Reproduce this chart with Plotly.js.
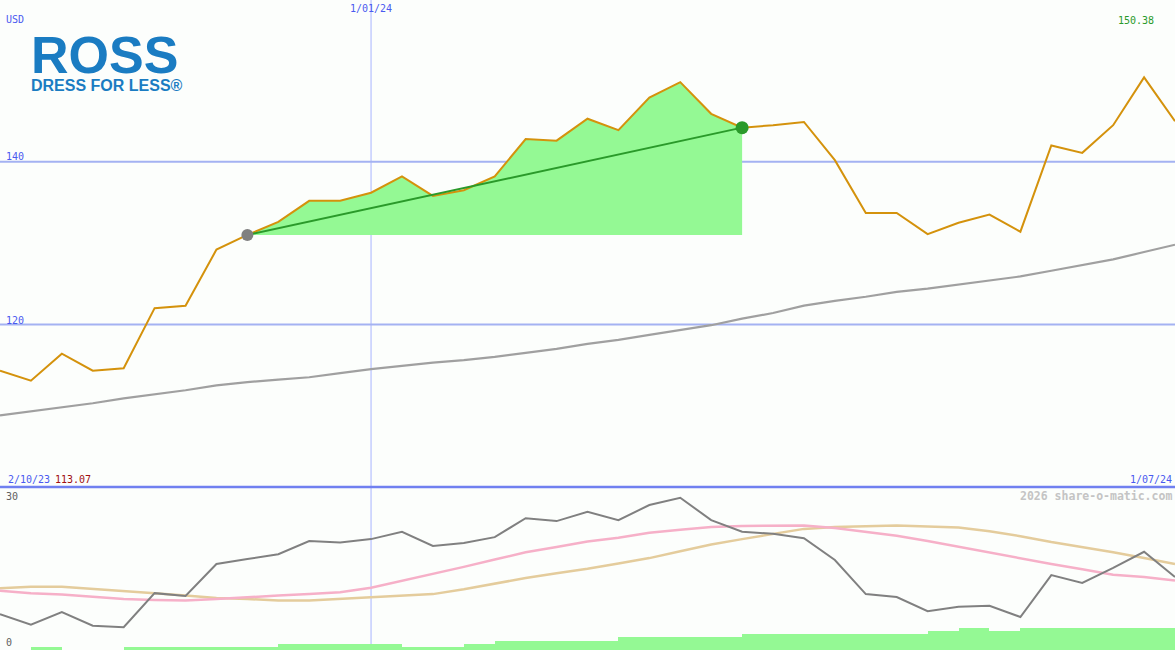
<!DOCTYPE html>
<html>
<head>
<meta charset="utf-8">
<script src="https://cdn.plot.ly/plotly-3.0.1.min.js"></script>
<style>
html,body{margin:0;padding:0;background:#fcfefc;}
#chart{width:1175px;height:650px;}
</style>
</head>
<body>
<div id="chart"></div>
<script>
// Weekly dates
const dates = [
"2023-10-09","2023-10-16","2023-10-23","2023-10-30","2023-11-06","2023-11-13","2023-11-20","2023-11-27",
"2023-12-04","2023-12-11","2023-12-18","2023-12-25","2024-01-01","2024-01-08","2024-01-15","2024-01-22",
"2024-01-29","2024-02-05","2024-02-12","2024-02-19","2024-02-26","2024-03-04","2024-03-11","2024-03-18",
"2024-03-25","2024-04-01","2024-04-08","2024-04-15","2024-04-22","2024-04-29","2024-05-06","2024-05-13",
"2024-05-20","2024-05-27","2024-06-03","2024-06-10","2024-06-17","2024-06-24","2024-07-01"];

// Price (USD)
const price = [114.3,113.07,116.4,114.3,114.6,122.0,122.3,129.2,131.0,132.6,135.2,135.2,136.2,138.2,135.8,136.5,
138.2,142.8,142.6,145.3,143.9,147.9,149.8,145.9,144.2,144.5,144.9,140.2,133.7,133.7,131.1,132.5,
133.5,131.4,142.0,141.1,144.5,150.38,145.0];

// Long moving average (grey line, upper panel)
const movingAvg = [108.8,109.3,109.8,110.3,110.9,111.4,111.9,112.5,112.9,113.2,113.5,114.0,114.5,114.9,115.3,115.6,
116.0,116.5,117.0,117.6,118.1,118.7,119.3,119.9,120.7,121.4,122.3,122.9,123.4,124.0,124.4,124.9,
125.4,125.9,126.6,127.3,128.0,128.9,129.8];

// Lower panel indicator lines
const oscGrey = [6.7,4.5,7.1,4.3,4.0,11.0,10.4,17.0,18.0,19.0,21.7,21.4,22.1,23.6,20.7,21.3,
22.5,26.4,25.8,27.7,26.0,29.1,30.6,26.0,23.6,23.2,22.3,17.8,10.8,10.2,7.3,8.2,
8.4,6.1,14.7,13.1,16.2,19.5,14.3];
const oscPink = [11.5,11.0,10.7,10.3,9.8,9.6,9.5,9.8,10.2,10.5,10.8,11.2,12.1,13.5,14.9,16.4,
17.9,19.4,20.5,21.6,22.4,23.4,24.0,24.6,24.8,24.9,24.9,24.4,23.6,22.8,21.7,20.5,
19.3,18.1,17.0,15.9,14.8,14.3,13.6];
const oscTan = [12.0,12.3,12.3,11.9,11.4,11.0,10.5,10.0,9.8,9.5,9.5,9.8,10.1,10.5,10.8,11.8,
13.0,14.1,15.1,16.0,17.1,18.2,19.6,21.0,22.1,23.2,24.2,24.6,24.7,24.9,24.7,24.5,
23.7,22.7,21.5,20.5,19.4,18.2,17.0];

// Weekly bars at the bottom (one per week interval)
const barValues = [0,1,0,0,1,1,1,1,1,2,2,2,2,1,1,2,3,3,3,3,4,4,4,4,5,5,5,5,5,5,6,7,6,7,7,7,7,7];

// Highlighted trend segment
const trendStart = 8, trendEnd = 24;

const segDates = dates.slice(trendStart, trendEnd + 1);
const segPrice = price.slice(trendStart, trendEnd + 1);
const WEEK = 7 * 24 * 3600 * 1000;

const traces = [
  {x:[dates[trendStart], dates[trendEnd]], y:[price[trendStart], price[trendStart]], xaxis:'x', yaxis:'y',
   mode:'lines', line:{width:0, color:'rgba(0,0,0,0)'}, hoverinfo:'skip', showlegend:false},
  {x:segDates, y:segPrice, xaxis:'x', yaxis:'y', mode:'lines', line:{width:0, color:'rgba(0,0,0,0)'},
   fill:'tonexty', fillcolor:'#94f994', showlegend:false},
  {x:dates, y:movingAvg, xaxis:'x', yaxis:'y', mode:'lines', line:{color:'#a0a0a0', width:2.2}, showlegend:false},
  {x:dates, y:price, xaxis:'x', yaxis:'y', mode:'lines', line:{color:'#d4920c', width:2}, showlegend:false},
  {x:[dates[trendStart], dates[trendEnd]], y:[price[trendStart], price[trendEnd]], xaxis:'x', yaxis:'y',
   mode:'lines', line:{color:'#2a9a2a', width:2}, showlegend:false},
  {x:[dates[trendStart]], y:[price[trendStart]], xaxis:'x', yaxis:'y', mode:'markers',
   marker:{color:'#808080', size:12}, showlegend:false},
  {x:[dates[trendEnd]], y:[price[trendEnd]], xaxis:'x', yaxis:'y', mode:'markers',
   marker:{color:'#2a9a2a', size:13}, showlegend:false},
  {x:dates.slice(0, barValues.length), y:barValues, type:'bar', xaxis:'x', yaxis:'y3',
   width:WEEK, offset:0, marker:{color:'#94f994', line:{width:0}}, showlegend:false},
  {x:dates, y:oscTan, xaxis:'x', yaxis:'y2', mode:'lines', line:{color:'#e4cc9c', width:2.5}, showlegend:false},
  {x:dates, y:oscPink, xaxis:'x', yaxis:'y2', mode:'lines', line:{color:'#f6b0c8', width:2.5}, showlegend:false},
  {x:dates, y:oscGrey, xaxis:'x', yaxis:'y2', mode:'lines', line:{color:'#808080', width:2}, showlegend:false}
];

const H = 650;
const py = v => 1 - v / H;
const mono = 'DejaVu Sans Mono, monospace';

const ann = (text, x, ypx, xanchor, color, opts) => Object.assign({
  text, x, y: py(ypx), xref:'paper', yref:'paper', xanchor, yanchor:'middle', showarrow:false,
  font:{family:mono, size:10, color}, borderpad:0
}, opts || {});

const annotations = [
  ann('USD', 5/1175, 19, 'left', '#4a5af0'),
  ann('140', 5/1175, 156, 'left', '#4a5af0'),
  ann('120', 5/1175, 320, 'left', '#4a5af0'),
  Object.assign(ann('1/01/24', 0, 9, 'center', '#4a5af0'), {x:'2024-01-01', xref:'x'}),
  ann('150.38', 1117/1175, 21, 'left', '#2a9a2a'),
  ann('2/10/23', 7/1175, 479, 'left', '#4a5af0'),
  ann('113.07', 54/1175, 479, 'left', '#a01010'),
  ann('1/07/24', 1173/1175, 479, 'right', '#4a5af0'),
  ann('30', 5/1175, 496, 'left', '#606060'),
  ann('0', 5/1175, 642, 'left', '#606060'),
  ann('<b>2026 share-o-matic.com</b>', 1173/1175, 496, 'right', '#c4c4c4', {font:{family:mono, size:11.5, color:'#c4c4c4'}}),
  ann('<span style="font-size:52px"><b>ROSS</b></span><br><span style="font-size:16px"><b>DRESS FOR LESS®</b></span>',
      30/1175, 60, 'left', '#1a7cc2',
      {align:'left', font:{family:'Liberation Sans, Arial, sans-serif', size:14, color:'#1a7cc2'}})
];

const shapes = [
  {type:'line', xref:'x', yref:'paper', x0:'2024-01-01', x1:'2024-01-01', y0:0, y1:1,
   line:{color:'#a8b4ff', width:1}, layer:'below'},
  {type:'line', xref:'paper', yref:'y', x0:0, x1:1, y0:140, y1:140, line:{color:'#a4b2f2', width:2}, layer:'below'},
  {type:'line', xref:'paper', yref:'y', x0:0, x1:1, y0:120, y1:120, line:{color:'#a4b2f2', width:2}, layer:'below'},
  {type:'line', xref:'paper', yref:'paper', x0:0, x1:1, y0:py(487), y1:py(487), line:{color:'#7080f0', width:2.5}}
];

const layout = {
  width:1175, height:650,
  margin:{l:0, r:0, t:0, b:0, pad:0},
  paper_bgcolor:'#fcfefc', plot_bgcolor:'rgba(0,0,0,0)',
  showlegend:false,
  bargap:0,
  xaxis:{type:'date', range:['2023-10-09','2024-07-01'], showgrid:false, showticklabels:false,
         zeroline:false, showline:false, ticks:'', fixedrange:true},
  yaxis:{domain:[163/650, 1], range:[100, 159.9], showgrid:false, showticklabels:false, zeroline:false,
         showline:false, ticks:''},
  yaxis2:{domain:[0, 162/650], range:[-0.68, 32.6], showgrid:false, showticklabels:false, zeroline:false,
          showline:false, ticks:''},
  yaxis3:{overlaying:'y2', range:[0, 51.7], showgrid:false, showticklabels:false, zeroline:false,
          showline:false, ticks:''},
  annotations, shapes
};

Plotly.newPlot('chart', traces, layout, {staticPlot:true, displayModeBar:false});
</script>
</body>
</html>
